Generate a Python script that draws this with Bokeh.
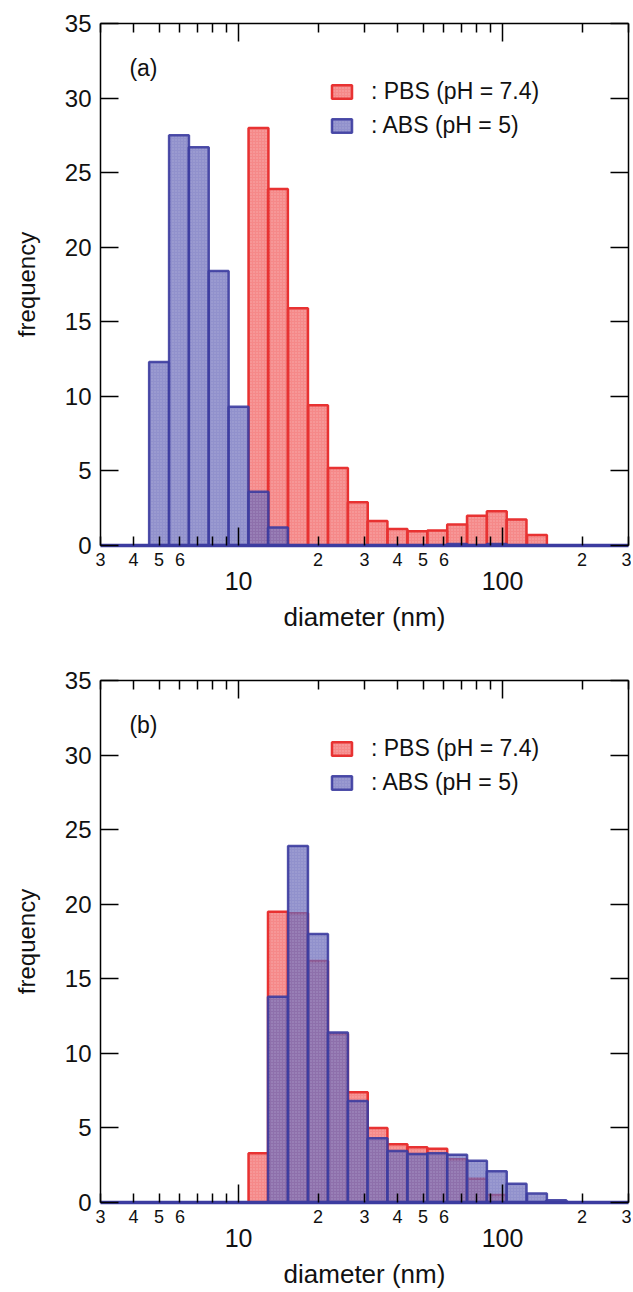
from bokeh.plotting import figure
from bokeh.models import (Range1d, LinearAxis, LogAxis, FixedTicker, Legend, LegendItem,
                          Label, BasicTickFormatter, CustomJSTickFormatter)
from bokeh.layouts import column
from bokeh.embed import file_html
from bokeh.resources import INLINE

# ---- data -------------------------------------------------------------
bin_centers = [2.97, 3.54, 4.20, 5.00, 5.95, 7.07, 8.41, 10.0, 11.9, 14.1, 16.8, 20.0, 23.8,
               28.3, 33.6, 40.0, 47.6, 56.6, 67.3, 80.0, 95.1, 113.0, 135.0, 160.0, 190.0,
               226.0, 269.0, 320.0]
a_pbs = [0, 0, 0, 0, 0, 0, 0, 0, 28.0, 23.9, 15.9, 9.4, 5.2, 2.9, 1.65, 1.1, 0.95, 1.0, 1.4,
         2.0, 2.3, 1.75, 0.7, 0, 0, 0, 0, 0]
a_abs = [0, 0, 0, 12.3, 27.5, 26.7, 18.4, 9.3, 3.6, 1.2, 0, 0, 0, 0, 0, 0, 0, 0, 0.1, 0, 0.1,
         0, 0, 0, 0, 0, 0, 0]
b_pbs = [0, 0, 0, 0, 0, 0, 0, 0, 3.3, 19.5, 19.4, 16.2, 11.3, 7.4, 5.0, 3.9, 3.7, 3.6, 2.9,
         1.6, 0.5, 0, 0, 0, 0, 0, 0, 0]
b_abs = [0, 0, 0, 0, 0, 0, 0, 0, 0, 13.8, 23.9, 18.0, 11.4, 6.8, 4.3, 3.45, 3.25, 3.3, 3.2,
         2.8, 2.1, 1.25, 0.6, 0.15, 0, 0, 0, 0]

series_labels = [": PBS (pH = 7.4)", ": ABS (pH = 5)"]
panel_tags = ["(a)", "(b)"]
y_ticks = [0, 5, 10, 15, 20, 25, 30, 35]
x_major = [10, 100]
x_minor = [3, 4, 5, 6, 7, 8, 9, 20, 30, 40, 50, 60, 70, 80, 90, 200, 300]
x_minor_labeled = [3, 4, 5, 6, 20, 30, 40, 50, 60, 200, 300]

FONT = "Liberation Sans"
TXT = "#111111"
RED_LINE = "#E83232"
RED_FILL = "#EE3A3A"
BLUE_LINE = "#3C3CA0"
BLUE_FILL = "#6767B8"
half = 2 ** (1 / 8)
lefts = [c / half for c in bin_centers]
rights = [c * half for c in bin_centers]

HIDDEN = dict(major_label_text_font_size="1px", major_label_text_alpha=0,
              major_label_standoff=0)
FRAME_H = 522


def make_panel(pbs, abs_, tag, top_b, bot_b):
    p = figure(width=631, height=top_b + FRAME_H + bot_b, x_axis_type="log",
               x_range=Range1d(3, 300), y_range=Range1d(0, 35),
               x_axis_location=None, y_axis_location=None,
               toolbar_location=None, output_backend="svg",
               min_border_left=100, min_border_right=3,
               min_border_top=top_b, min_border_bottom=bot_b,
               outline_line_color=None, background_fill_color="white")
    p.xgrid.visible = False
    p.ygrid.visible = False

    red = p.quad(left=lefts, right=rights, bottom=0, top=pbs,
                 fill_color=RED_FILL, fill_alpha=0.6,
                 line_color=RED_LINE, line_width=2.5,
                 hatch_pattern="dot", hatch_color="white", hatch_alpha=0.3, hatch_scale=3)
    blue = p.quad(left=lefts, right=rights, bottom=0, top=abs_,
                  fill_color=BLUE_FILL, fill_alpha=0.72,
                  line_color=BLUE_LINE, line_alpha=0.9, line_width=2.5,
                  hatch_pattern="dot", hatch_color="white", hatch_alpha=0.2, hatch_scale=3)

    la = LinearAxis(ticker=FixedTicker(ticks=y_ticks, minor_ticks=[]),
                    major_tick_in=18, major_tick_out=0, minor_tick_in=0, minor_tick_out=0,
                    major_label_standoff=9, major_label_text_font_size="24px",
                    major_label_text_font=FONT, major_label_text_color=TXT,
                    axis_label="frequency", axis_label_text_font_size="24px",
                    axis_label_text_font=FONT, axis_label_text_font_style="normal",
                    axis_label_text_color=TXT, axis_label_standoff=22,
                    axis_line_width=1.5, major_tick_line_width=1.5)
    p.add_layout(la, "left")
    ra = LinearAxis(ticker=FixedTicker(ticks=y_ticks, minor_ticks=[]),
                    major_tick_in=18, major_tick_out=0, minor_tick_in=0, minor_tick_out=0,
                    axis_line_width=1.5, major_tick_line_width=1.5, **HIDDEN)
    p.add_layout(ra, "right")
    ta = LogAxis(ticker=FixedTicker(ticks=x_major, minor_ticks=x_minor),
                 major_tick_in=18, major_tick_out=0, minor_tick_in=9, minor_tick_out=0,
                 axis_line_width=1.5, major_tick_line_width=1.5, minor_tick_line_width=1.5,
                 formatter=BasicTickFormatter(), **HIDDEN)
    p.add_layout(ta, "above")

    ba = LogAxis(ticker=FixedTicker(ticks=x_major, minor_ticks=x_minor),
                 major_tick_in=18, major_tick_out=0, minor_tick_in=9, minor_tick_out=0,
                 axis_line_color=BLUE_LINE, axis_line_width=3.5,
                 major_tick_line_width=1.5, minor_tick_line_width=1.5,
                 formatter=BasicTickFormatter(), **HIDDEN)
    p.add_layout(ba, "below")
    bb = LogAxis(ticker=FixedTicker(ticks=x_minor_labeled, minor_ticks=[]),
                 formatter=CustomJSTickFormatter(code="""
                     const e = Math.floor(Math.log10(tick) + 1e-9);
                     return String(Math.round(tick / Math.pow(10, e)));"""),
                 major_tick_in=0, major_tick_out=0, minor_tick_in=0, minor_tick_out=0,
                 axis_line_color=None, major_label_standoff=7,
                 major_label_text_font_size="18px", major_label_text_font=FONT,
                 major_label_text_color=TXT)
    p.add_layout(bb, "below")
    bc = LogAxis(ticker=FixedTicker(ticks=x_major, minor_ticks=[]),
                 formatter=BasicTickFormatter(),
                 major_tick_in=0, major_tick_out=0, minor_tick_in=0, minor_tick_out=0,
                 axis_line_color=None, major_label_standoff=3,
                 major_label_text_font_size="25px", major_label_text_font=FONT,
                 major_label_text_color=TXT,
                 axis_label="diameter (nm)", axis_label_text_font_size="26px",
                 axis_label_text_font=FONT, axis_label_text_font_style="normal",
                 axis_label_text_color=TXT, axis_label_standoff=9)
    p.add_layout(bc, "below")

    legend = Legend(items=[LegendItem(label=series_labels[0], renderers=[red]),
                           LegendItem(label=series_labels[1], renderers=[blue])],
                    location=(229, 406), border_line_color=None,
                    background_fill_alpha=0, padding=0, margin=0, spacing=7,
                    glyph_width=25, glyph_height=17, label_height=17,
                    label_standoff=17, label_text_font_size="23px",
                    label_text_font=FONT, label_text_color=TXT)
    p.add_layout(legend)

    p.add_layout(Label(x=3.86, y=32, text=tag, text_baseline="middle",
                       text_font_size="23px", text_font=FONT, text_color=TXT))
    return p


pa = make_panel(a_pbs, a_abs, panel_tags[0], 23, 91)
pb = make_panel(b_pbs, b_abs, panel_tags[1], 44, 89)

layout = column(pa, pb, spacing=0)
open("out.html", "w").write(file_html(layout, INLINE))
